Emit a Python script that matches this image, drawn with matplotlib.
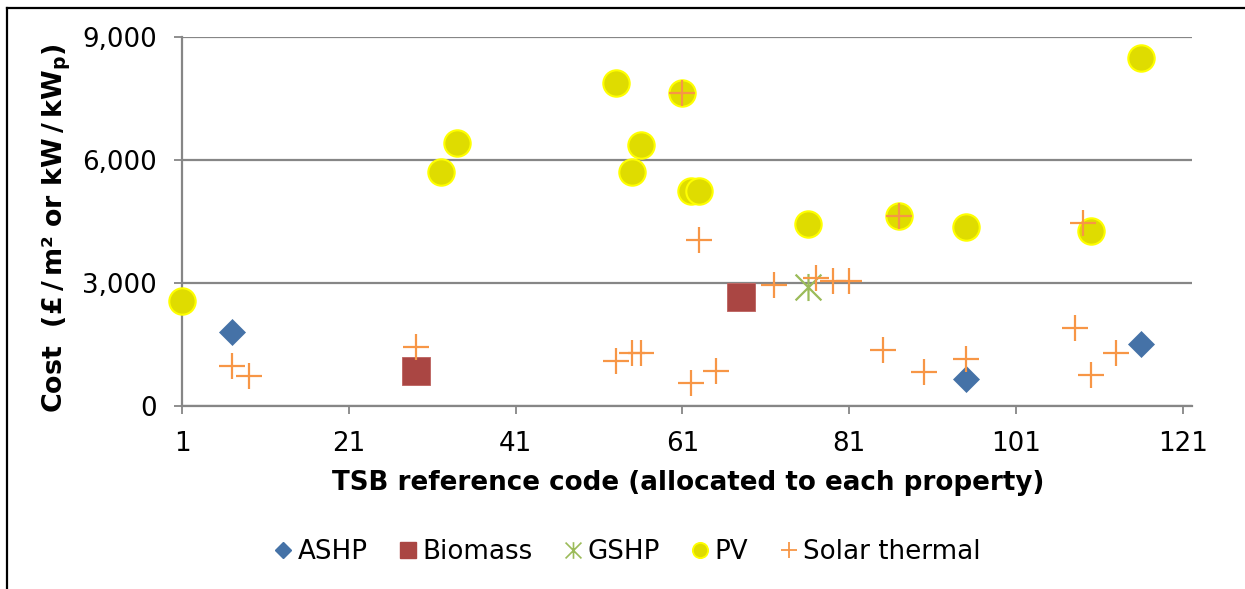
import matplotlib
matplotlib.use("Agg")
import matplotlib.pyplot as plt
from matplotlib.lines import Line2D
from matplotlib.path import Path

# data
ashp_x = [7, 95, 116]
ashp_y = [1790, 640, 1510]

biomass_x = [29, 68]
biomass_y = [850, 2650]

gshp_x = [76]
gshp_y = [2890]

pv_x = [1, 32, 34, 53, 55, 56, 61, 62, 63, 76, 87, 95, 110, 116]
pv_y = [2550, 5690, 6400, 7860, 5690, 6370, 7620, 5230, 5230, 4420, 4630, 4350, 4250, 8470]

solar_x = [7, 9, 29, 53, 55, 56, 61, 62, 63, 65, 72, 77, 79, 81, 85, 87, 90, 95, 108, 109, 110, 113]
solar_y = [970, 730, 1430, 1100, 1290, 1290, 7620, 560, 4040, 840, 2940, 3110, 3040, 3040, 1370,
           4630, 820, 1130, 1900, 4460, 760, 1290]

x_ticks = [1, 21, 41, 61, 81, 101, 121]
y_ticks = [0, 3000, 6000, 9000]
y_tick_labels = ["0", "3,000", "6,000", "9,000"]

series_names = ["ASHP", "Biomass", "GSHP", "PV", "Solar thermal"]

C_ASHP = "#4572A7"
C_BIO = "#AA4643"
C_GSHP = "#9BBB59"
C_PV = "#DFDC00"
C_PV_EDGE = "#FFFF00"
C_SOLAR = "#F79646"
C_GRID = "#868686"

plt.rcParams.update({
    "font.family": "DejaVu Sans",
    "font.size": 18.8,
    "mathtext.fontset": "dejavusans",
})

# Excel style asterisk: an x with a vertical bar through it
star = Path(
    [(-1, -1), (1, 1), (-1, 1), (1, -1), (0, -1.05), (0, 1.05)],
    [Path.MOVETO, Path.LINETO, Path.MOVETO, Path.LINETO, Path.MOVETO, Path.LINETO],
)

fig = plt.figure(figsize=(12.45, 5.89), dpi=100)
ax = fig.add_axes([0.1462, 0.3112, 0.8112, 0.6265])

ax.set_xlim(1, 122.08)
ax.set_ylim(0, 9000)
ax.set_xticks(x_ticks)
ax.set_yticks(y_ticks)
ax.set_yticklabels(y_tick_labels)
ax.yaxis.grid(True, color=C_GRID, linewidth=1.6)
ax.set_axisbelow(True)
for s in ["top", "right"]:
    ax.spines[s].set_visible(False)
for s in ["left", "bottom"]:
    ax.spines[s].set_color(C_GRID)
    ax.spines[s].set_linewidth(1.6)
ax.tick_params(axis="both", colors=C_GRID, labelcolor="black", width=1.3, length=6)
ax.tick_params(axis="y", pad=12)
ax.tick_params(axis="x", pad=12)

ax.plot(ashp_x, ashp_y, linestyle="none", marker="D", ms=13.5, color=C_ASHP,
        mec=C_ASHP, mew=0.5, clip_on=False, zorder=3)
ax.plot(biomass_x, biomass_y, linestyle="none", marker="s", ms=19.5, color=C_BIO,
        mec="#C06A67", mew=0.7, clip_on=False, zorder=3)
ax.plot(gshp_x, gshp_y, linestyle="none", marker=star, ms=19.5, color=C_GSHP,
        mfc="none", mew=1.6, clip_on=False, zorder=3)
ax.plot(pv_x, pv_y, linestyle="none", marker="o", ms=19, color=C_PV,
        mec=C_PV_EDGE, mew=1.5, clip_on=False, zorder=3)
ax.plot(solar_x, solar_y, linestyle="none", marker="+", ms=19, color=C_SOLAR,
        mew=1.6, clip_on=False, zorder=4)

fig.text(0.0458, 0.612, "Cost  (£\u2009/\u2009m² or kW\u2009/\u2009kW$_\\mathbf{p}$)", rotation=90,
         ha="center", va="center", fontweight="bold", fontsize=19.4)
fig.text(0.5526, 0.180, "TSB reference code (allocated to each property)",
         ha="center", va="center", fontweight="bold")

handles = [
    Line2D([], [], linestyle="none", marker="D", ms=8.5, color=C_ASHP),
    Line2D([], [], linestyle="none", marker="s", ms=11, color=C_BIO),
    Line2D([], [], linestyle="none", marker=star, ms=12, color=C_GSHP, mfc="none", mew=1.2),
    Line2D([], [], linestyle="none", marker="o", ms=11, color=C_PV, mec=C_PV_EDGE, mew=1.3),
    Line2D([], [], linestyle="none", marker="+", ms=12, color=C_SOLAR, mew=1.3),
]
fig.legend(handles, series_names, loc="center", bbox_to_anchor=(0.5045, 0.0628),
           ncol=5, frameon=False, handlelength=0.6, handletextpad=0.25,
           columnspacing=1.25, borderaxespad=0.0)

# outer frame (left and top edges visible in the source)
fig.add_artist(Line2D([7 / 1245, 7 / 1245], [0, 1 - 8 / 589], color="black", linewidth=1.6))
fig.add_artist(Line2D([7 / 1245, 1], [1 - 8 / 589, 1 - 8 / 589], color="black", linewidth=1.6))

fig.savefig("out.png", dpi=100, facecolor="white")
